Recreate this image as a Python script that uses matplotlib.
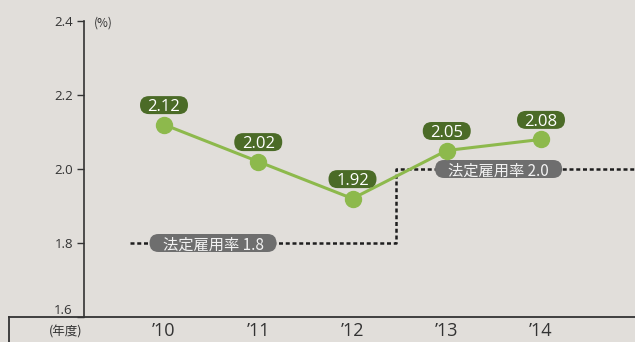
import matplotlib
matplotlib.use("Agg")
import matplotlib.pyplot as plt
from matplotlib.lines import Line2D
from matplotlib.patches import FancyBboxPatch
from matplotlib.transforms import Affine2D, ScaledTranslation

# Employment rate of persons with disabilities (%)
years = ["’10", "’11", "’12", "’13", "’14"]
rates = [2.12, 2.02, 1.92, 2.05, 2.08]
value_labels = ["2.12", "2.02", "1.92", "2.05", "2.08"]

# Statutory employment rate (step change between FY'12 and FY'13)
legal_rates = [1.8, 2.0]
legal_labels = ["法定雇用率 1.8", "法定雇用率 2.0"]

yticks = [1.6, 1.8, 2.0, 2.2, 2.4]

BG = "#e1deda"
LINE_GREEN = "#8db94c"
DARK_GREEN = "#4b6b27"
GRAY = "#6e6e6e"
INK = "#333333"

plt.rcParams["font.family"] = ["Noto Sans CJK JP", "DejaVu Sans"]

W, H = 635, 342
fig = plt.figure(figsize=(W / 100, H / 100), dpi=100, facecolor=BG)

x0, x1 = 84, 635
y_top, y_bot = 21, 317
ax = fig.add_axes([x0 / W, (H - y_bot) / H, (x1 - x0) / W, (y_bot - y_top) / H])
ax.set_facecolor(BG)

step = 94.25
xs = list(range(len(years)))
ax.set_xlim(-(164 - x0) / step, len(years) - 1 + (x1 - 541) / step)
ax.set_ylim(yticks[0], yticks[-1])


def pill(x, y, text, w, h, dy, fc, fs, tc, family, z):
    """Rounded label box (pixel-sized) anchored at data point (x, y)."""
    trans = Affine2D() + ScaledTranslation(x, y, ax.transData)
    box = FancyBboxPatch((-w / 2, dy - h / 2), w, h,
                         boxstyle=f"round,pad=0,rounding_size={h / 2}",
                         fc=fc, ec="none", transform=trans, zorder=z)
    ax.add_patch(box)
    ax.text(0, dy, text, transform=trans, ha="center", va="center_baseline",
            fontsize=fs, color=tc, fontfamily=family, zorder=z + 1)


# statutory rate step line
change_x = 2.46
ax.plot([-0.36, change_x, change_x, ax.get_xlim()[1]],
        [legal_rates[0], legal_rates[0], legal_rates[1], legal_rates[1]],
        color="#1e1e1e", lw=1.8, ls=(0, (1.6, 1.1)), zorder=2)
for lx, ly, lt in zip([0.52, 3.55], legal_rates, legal_labels):
    pill(lx, ly, lt, 127, 18, 0, GRAY, 11, "#f2f2f2",
         ["Noto Sans CJK JP", "DejaVu Sans"], 4)

# actual rate line
ax.plot(xs, rates, color=LINE_GREEN, lw=2.2, marker="o", ms=11.5,
        mfc=LINE_GREEN, mec=LINE_GREEN, zorder=5)
for x, y, t in zip(xs, rates, value_labels):
    pill(x, y, t, 48, 18, 19.5, DARK_GREEN, 12, "white",
         ["Open Sans", "DejaVu Sans"], 6)

# axes styling
for s in ["top", "right", "bottom"]:
    ax.spines[s].set_visible(False)
ax.spines["left"].set_color(INK)
ax.spines["left"].set_linewidth(1.2)
ax.set_yticks(yticks)
ax.set_yticklabels([f"{v:.1f}" for v in yticks], fontsize=9.5, color=INK,
                   fontfamily=["Open Sans", "DejaVu Sans"])
ax.get_yticklabels()[0].set_va("bottom")
ax.tick_params(axis="y", direction="out", length=5, width=1, color=INK, pad=3)
ax.set_xticks([])

fig.text(103 / W, 1 - 23 / H, "(%)", fontsize=8.5, color=INK, ha="center", va="center")

# category band along the bottom
fig.add_artist(Line2D([9 / W, 1], [(H - 317) / H] * 2, color=INK, lw=1.3))
fig.add_artist(Line2D([9 / W, 9 / W], [0, (H - 317) / H], color=INK, lw=1.3))
fig.text(66 / W, 1 - 332 / H, "(年度)", fontsize=9, color=INK, ha="center", va="center")
for i, lab in enumerate(years):
    px = 164 + i * step
    fig.text(px / W, 1 - 331 / H, lab, fontsize=13, color=INK, ha="center", va="center",
             fontfamily=["Open Sans", "DejaVu Sans"])

fig.savefig("out.png", dpi=100, facecolor=BG)
